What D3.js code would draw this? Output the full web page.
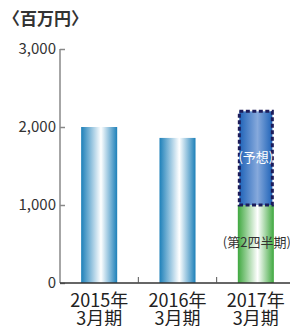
<!DOCTYPE html>
<html>
<head>
<meta charset="utf-8">
<script src="https://cdn.jsdelivr.net/npm/d3@7"></script>
<style>
body { margin: 0; background: #fff; }
text { font-family: "Noto Sans CJK JP", "Noto Sans", sans-serif; fill: #333; }
</style>
</head>
<body>
<svg id="svg" width="290" height="326"></svg>
<script>
var years = ["2015年", "2016年", "2017年"];
var periods = ["3月期", "3月期", "3月期"];
var actual = [2000, 1860, 1000];
var forecast = [0, 0, 1220];
var yTicks = [0, 1000, 2000, 3000];

var svg = d3.select("#svg");
var defs = svg.append("defs");

function grad(id, edge, mid) {
    var g = defs.append("linearGradient").attr("id", id)
        .attr("x1", "0%").attr("x2", "100%").attr("y1", "0%").attr("y2", "0%");
    g.append("stop").attr("offset", "0%").attr("stop-color", edge);
    g.append("stop").attr("offset", "55%").attr("stop-color", mid);
    g.append("stop").attr("offset", "100%").attr("stop-color", edge);
}
grad("blue", "#1d80b9", "#ffffff");
grad("green", "#3fa83f", "#ffffff");
grad("fc", "#1f63b8", "#86a9dc");

var x = d3.scaleBand().domain(years).range([60, 295]).paddingInner(0.54).paddingOuter(0.27);
var y = d3.scaleLinear().domain([0, 3000]).range([283, 49]);

svg.append("text").attr("x", 3).attr("y", 25)
    .style("font-size", "17px").style("font-weight", "bold").text("〈百万円〉");

// y axis
var yAxis = svg.append("g").attr("transform", "translate(60,0)")
    .call(d3.axisRight(y).tickValues(yTicks).tickSize(5).tickFormat(""));
yAxis.select(".domain").attr("stroke", "#888").attr("stroke-width", 1.5).attr("d", "M0,49V283");
yAxis.selectAll(".tick line").attr("stroke", "#888").attr("stroke-width", 1.5);
svg.selectAll(".ylab").data(yTicks).enter().append("text")
    .attr("x", 56).attr("y", d => y(d) + 5)
    .attr("text-anchor", "end").style("font-size", "15px")
    .text(d3.format(","));

// bars
svg.selectAll(".bar").data(actual).enter().append("rect")
    .attr("x", (d, i) => x(years[i]))
    .attr("width", x.bandwidth())
    .attr("y", d => y(d))
    .attr("height", d => y(0) - y(d))
    .attr("fill", (d, i) => i === 2 ? "url(#green)" : "url(#blue)");

svg.selectAll(".fc").data(forecast).enter().filter(d => d > 0).append("rect")
    .attr("x", (d, i) => x(years[2]) + 1.5)
    .attr("width", x.bandwidth() - 3)
    .attr("y", d => y(actual[2] + d) + 1.5)
    .attr("height", d => y(actual[2]) - y(actual[2] + d) - 1.5)
    .attr("fill", "url(#fc)")
    .attr("stroke", "#1c1c5a").attr("stroke-width", 3)
    .attr("stroke-dasharray", "4,2.5");

svg.append("text").attr("x", x(years[2]) + x.bandwidth() / 2).attr("y", y(1610) + 5)
    .attr("text-anchor", "middle").style("font-size", "13px").style("fill", "#fff").text("(予想)");
svg.append("text").attr("x", x(years[2]) + x.bandwidth() / 2 + 1).attr("y", y(530) + 5)
    .attr("text-anchor", "middle").style("font-size", "13px").text("(第2四半期)");

// x axis
var xAxis = svg.append("g").attr("transform", "translate(0,283)")
    .call(d3.axisTop(x).tickSize(0).tickFormat(""));
xAxis.select(".domain").attr("stroke", "#333").attr("stroke-width", 1.5).attr("d", "M60,0H290");
svg.selectAll(".sep").data(years.slice(1)).enter().append("line")
    .attr("x1", d => x(d) - x.step() * x.paddingInner() / 2)
    .attr("x2", d => x(d) - x.step() * x.paddingInner() / 2)
    .attr("y1", 283).attr("y2", 277).attr("stroke", "#555");

svg.selectAll(".xl1").data(years).enter().append("text")
    .attr("x", d => x(d) + x.bandwidth() / 2).attr("y", 307)
    .attr("text-anchor", "middle").style("font-size", "18px").style("fill", "#222").text(d => d);
svg.selectAll(".xl2").data(periods).enter().append("text")
    .attr("x", (d, i) => x(years[i]) + x.bandwidth() / 2).attr("y", 325)
    .attr("text-anchor", "middle").style("font-size", "18px").style("fill", "#222").text(d => d);
</script>
</body>
</html>
